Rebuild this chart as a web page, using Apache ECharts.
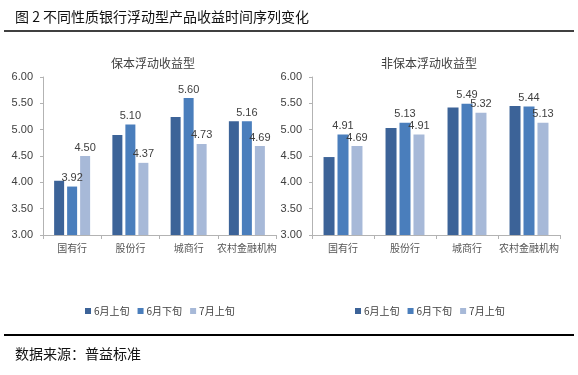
<!DOCTYPE html>
<html>
<head>
<meta charset="utf-8">
<script src="https://cdn.jsdelivr.net/npm/echarts@6/dist/echarts.min.js"></script>
<style>
  html, body { margin: 0; padding: 0; background: #fff; }
  #main { width: 578px; height: 375px; }
</style>
</head>
<body>
<div id="main"></div>
<script>
// 数据
const categories = ["国有行", "股份行", "城商行", "农村金融机构"];
const seriesNames = ["6月上旬", "6月下旬", "7月上旬"];
const guaranteed = [
  [4.03, 4.90, 5.24, 5.16], // 6月上旬
  [3.92, 5.10, 5.60, 5.16], // 6月下旬
  [4.50, 4.37, 4.73, 4.69], // 7月上旬
];
const nonGuaranteed = [
  [4.48, 5.03, 5.42, 5.45],
  [4.91, 5.13, 5.49, 5.44],
  [4.69, 4.91, 5.32, 5.13],
];
const yTicks = [3.0, 6.0, 0.5]; // min, max, interval

const colors = ["#3c6398", "#4a7ebc", "#a7b9d8"];
const cjk = '"Noto Sans CJK SC", sans-serif';
const num = '"Liberation Sans", Arial, sans-serif';

const chart = echarts.init(document.getElementById("main"), null, { renderer: "canvas" });

function makeSeries(data, idx, barWidth, barGap) {
  return data.map((vals, i) => ({
    name: seriesNames[i],
    type: "bar",
    xAxisIndex: idx,
    yAxisIndex: idx,
    data: vals,
    barWidth: barWidth,
    barGap: barGap,
    itemStyle: { color: colors[i] },
    label: {
      show: i > 0, // 6月上旬不显示数值
      position: "top",
      distance: 3,
      formatter: (p) => p.value.toFixed(2),
      fontFamily: num,
      fontSize: 11,
      color: "#404040",
    },
  }));
}

function xAxisOf(gridIndex) {
  return {
    type: "category",
    gridIndex: gridIndex,
    data: categories,
    axisLine: { lineStyle: { color: "#b3b3b3" } },
    axisTick: { show: true, length: 4, lineStyle: { color: "#b3b3b3" } },
    axisLabel: { interval: 0, fontFamily: cjk, fontSize: 10, color: "#555", margin: 8 },
  };
}

function yAxisOf(gridIndex) {
  return {
    type: "value",
    gridIndex: gridIndex,
    min: yTicks[0],
    max: yTicks[1],
    interval: yTicks[2],
    axisLine: { show: true, lineStyle: { color: "#b3b3b3" } },
    axisTick: { show: true, length: 3, lineStyle: { color: "#b3b3b3" } },
    splitLine: { show: false },
    axisLabel: {
      fontFamily: num,
      fontSize: 11,
      color: "#404040",
      margin: 10,
      formatter: (v) => v.toFixed(2),
    },
  };
}

const legendItems = seriesNames.map((n, i) => ({ name: n, itemStyle: { color: colors[i] } }));

function legendAt(left) {
  return {
    data: legendItems,
    left: left,
    top: 301,
    width: 220,
    orient: "horizontal",
    itemWidth: 6,
    itemHeight: 6,
    itemGap: 8,
    icon: "rect",
    textStyle: { fontFamily: cjk, fontSize: 10, color: "#404040", padding: [0, 0, 0, -2] },
  };
}

const option = {
  animation: false,
  title: [
    {
      text: "图 2 不同性质银行浮动型产品收益时间序列变化",
      left: 10,
      top: 5,
      textStyle: { fontFamily: cjk, fontSize: 14, fontWeight: "normal", color: "#111" },
    },
    {
      text: "保本浮动收益型",
      left: 148,
      top: 52,
      textAlign: "center",
      textStyle: { fontFamily: cjk, fontSize: 12, fontWeight: "normal", color: "#404040" },
    },
    {
      text: "非保本浮动收益型",
      left: 424,
      top: 52,
      textAlign: "center",
      textStyle: { fontFamily: cjk, fontSize: 12, fontWeight: "normal", color: "#404040" },
    },
    {
      text: "数据来源：普益标准",
      left: 10,
      top: 342,
      textStyle: { fontFamily: cjk, fontSize: 14, fontWeight: "normal", color: "#111" },
    },
  ],
  legend: [legendAt(80), legendAt(350)],
  grid: [
    { left: 43, top: 77, width: 233, height: 158 },
    { left: 312, top: 77, width: 248, height: 158 },
  ],
  xAxis: [xAxisOf(0), xAxisOf(1)],
  yAxis: [yAxisOf(0), yAxisOf(1)],
  series: [
    ...makeSeries(guaranteed, 0, 10, "30%"),
    ...makeSeries(nonGuaranteed, 1, 11, "27%"),
  ],
  graphic: [
    {
      type: "line",
      shape: { x1: 4, y1: 31, x2: 574, y2: 31 },
      style: { stroke: "#000", lineWidth: 1.5 },
    },
    {
      type: "line",
      shape: { x1: 4, y1: 335, x2: 574, y2: 335 },
      style: { stroke: "#000", lineWidth: 2 },
    },
  ],
};

chart.setOption(option);
</script>
</body>
</html>
